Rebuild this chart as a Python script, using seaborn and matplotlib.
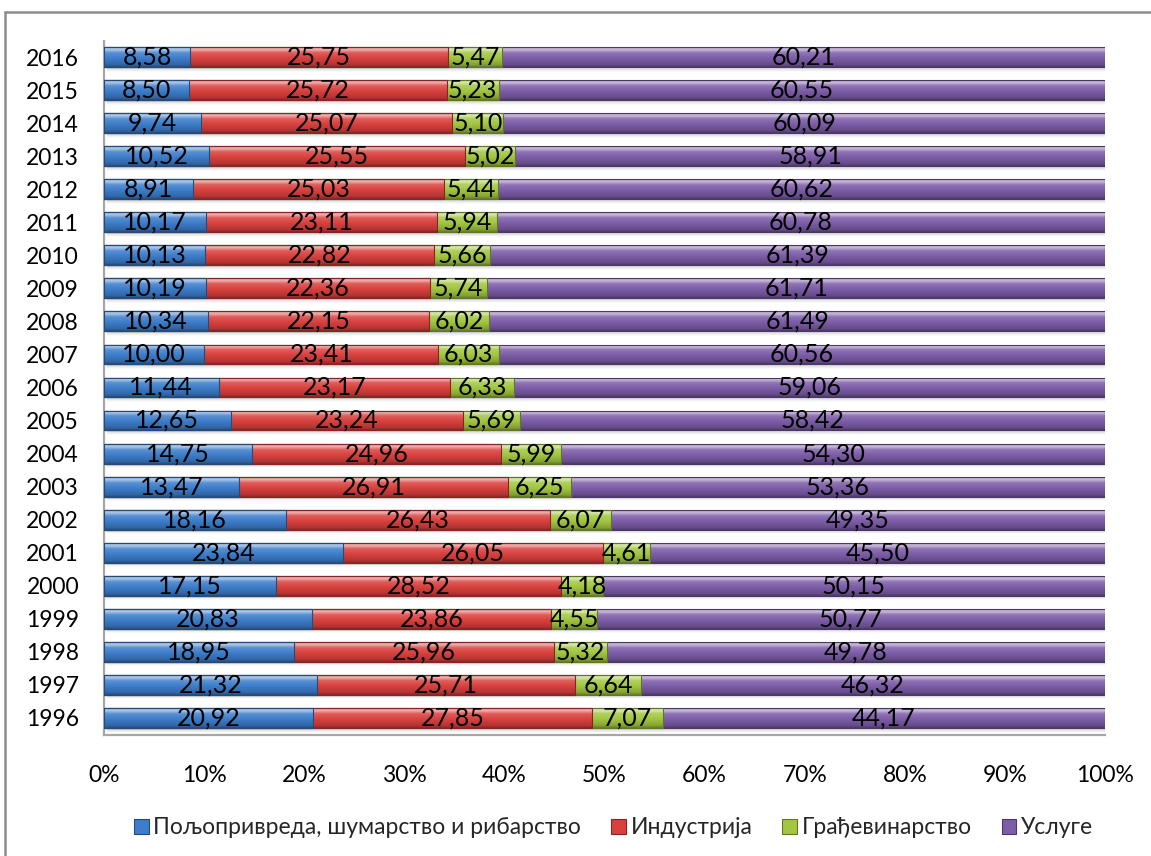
import numpy as np
import pandas as pd
import matplotlib
matplotlib.use("Agg")
import matplotlib.pyplot as plt
import seaborn as sns
from matplotlib.colors import to_rgb
from matplotlib.patches import Patch
from matplotlib.lines import Line2D

# Gross value added structure by sector, percent shares per year
years = [2016, 2015, 2014, 2013, 2012, 2011, 2010, 2009, 2008, 2007, 2006,
         2005, 2004, 2003, 2002, 2001, 2000, 1999, 1998, 1997, 1996]
agriculture = [8.58, 8.50, 9.74, 10.52, 8.91, 10.17, 10.13, 10.19, 10.34, 10.00, 11.44,
               12.65, 14.75, 13.47, 18.16, 23.84, 17.15, 20.83, 18.95, 21.32, 20.92]
industry = [25.75, 25.72, 25.07, 25.55, 25.03, 23.11, 22.82, 22.36, 22.15, 23.41, 23.17,
            23.24, 24.96, 26.91, 26.43, 26.05, 28.52, 23.86, 25.96, 25.71, 27.85]
construction = [5.47, 5.23, 5.10, 5.02, 5.44, 5.94, 5.66, 5.74, 6.02, 6.03, 6.33,
                5.69, 5.99, 6.25, 6.07, 4.61, 4.18, 4.55, 5.32, 6.64, 7.07]
services = [60.21, 60.55, 60.09, 58.91, 60.62, 60.78, 61.39, 61.71, 61.49, 60.56, 59.06,
            58.42, 54.30, 53.36, 49.35, 45.50, 50.15, 50.77, 49.78, 46.32, 44.17]

sectors = ["Пољопривреда, шумарство и рибарство", "Индустрија", "Грађевинарство", "Услуге"]
colors = ["#3D7DCA", "#D9413E", "#A2C640", "#7D5DA8"]
x_ticks = list(range(0, 101, 10))

sns.set_theme(style="white")
plt.rcParams["font.family"] = ["Lato", "DejaVu Sans"]

values = np.array([agriculture, industry, construction, services])
totals = values.sum(axis=0)
shares = values / totals * 100.0
cum = np.cumsum(shares, axis=0)
labels = [str(y) for y in years]

df = pd.DataFrame({"year": labels})
for i in range(4):
    df[f"cum{i}"] = cum[i]

fig = plt.figure(figsize=(11.51, 8.56), dpi=100)
ax = fig.add_axes([104 / 1151, 1 - 734.5 / 856, (1105 - 104) / 1151, 694 / 856])


def gradient_rows(base, n=64):
    b = np.array(to_rgb(base))
    w = np.ones(3)
    stops = [
        (0.00, b * 0.55 + w * 0.45 * 0.9),
        (0.12, b * 0.42 + w * 0.58),
        (0.28, b * 0.85 + w * 0.15),
        (0.55, b),
        (0.88, b * 0.82),
        (1.00, b * 0.62),
    ]
    pos = np.array([s[0] for s in stops])
    cols = np.array([s[1] for s in stops])
    t = np.linspace(0, 1, n)
    rgb = np.stack([np.interp(t, pos, cols[:, c]) for c in range(3)], axis=1)
    return np.clip(rgb, 0, 1).reshape(n, 1, 3)


# soft shadow under each bar row
shadow = np.linspace(0.80, 1.0, 16).reshape(16, 1, 1) * np.ones((16, 1, 3))
for i in range(len(years)):
    ax.imshow(shadow, extent=(0.3, 100.3, i + 0.44, i + 0.3), origin="upper",
              aspect="auto", zorder=1, interpolation="bilinear")

# stacked bars: draw cumulative totals from the widest to the narrowest
for k in range(3, -1, -1):
    n_before = len(ax.patches)
    sns.barplot(data=df, x=f"cum{k}", y="year", order=labels, orient="h",
                color=colors[k], saturation=1, width=0.6, errorbar=None, ax=ax)
    new_patches = ax.patches[n_before:]
    grad = gradient_rows(colors[k])
    edge = tuple(np.array(to_rgb(colors[k])) * 0.6)
    for p in new_patches:
        z = 2 + (3 - k) * 2
        p.set_facecolor("none")
        p.set_edgecolor(edge)
        p.set_linewidth(0.8)
        p.set_zorder(z + 1)
        x0, y0 = p.get_x(), p.get_y()
        x1, y1 = x0 + p.get_width(), y0 + p.get_height()
        im = ax.imshow(grad, extent=(x0, x1, y1, y0), origin="upper",
                       aspect="auto", zorder=z, interpolation="bilinear")
        im.set_clip_path(p)

# value labels in the middle of each segment
for k, series in enumerate([agriculture, industry, construction, services]):
    for i, v in enumerate(series):
        left = cum[k - 1][i] if k > 0 else 0.0
        xc = left + shares[k][i] / 2
        ax.text(xc, i, f"{v:.2f}".replace(".", ","), ha="center", va="center",
                fontsize=18, color="black", zorder=20)

ax.set_xlim(0, 100)
ax.set_ylim(len(years) - 0.5, -0.5)
ax.set_xticks(x_ticks)
ax.set_xticklabels([f"{t}%" for t in x_ticks])
ax.tick_params(axis="x", length=0, pad=22, labelsize=16.5, colors="black")
ax.tick_params(axis="y", length=0, pad=18, labelsize=16.5, colors="black")
ax.set_xlabel("")
ax.set_ylabel("")
for s in ["top", "right"]:
    ax.spines[s].set_visible(False)
for s in ["left", "bottom"]:
    ax.spines[s].set_color("#A6A6A6")
    ax.spines[s].set_linewidth(1.6)

handles = [Patch(facecolor=c, edgecolor=tuple(np.array(to_rgb(c)) * 0.6), linewidth=0.8)
           for c in colors]
fig.legend(handles, sectors, loc="center", bbox_to_anchor=(0.533, 1 - 828 / 856),
           ncol=4, frameon=False, fontsize=16.5, handlelength=0.65, handleheight=0.65,
           handletextpad=0.2, columnspacing=1.3)

# outer chart frame
fx = 4.5 / 1151
fy = 1 - 11.5 / 856
fig.add_artist(Line2D([fx, fx], [0, fy], transform=fig.transFigure, color="#8C8C8C", lw=1.8))
fig.add_artist(Line2D([fx, 1.0], [fy, fy], transform=fig.transFigure, color="#8C8C8C", lw=1.8))

fig.savefig("out.png", dpi=100)
